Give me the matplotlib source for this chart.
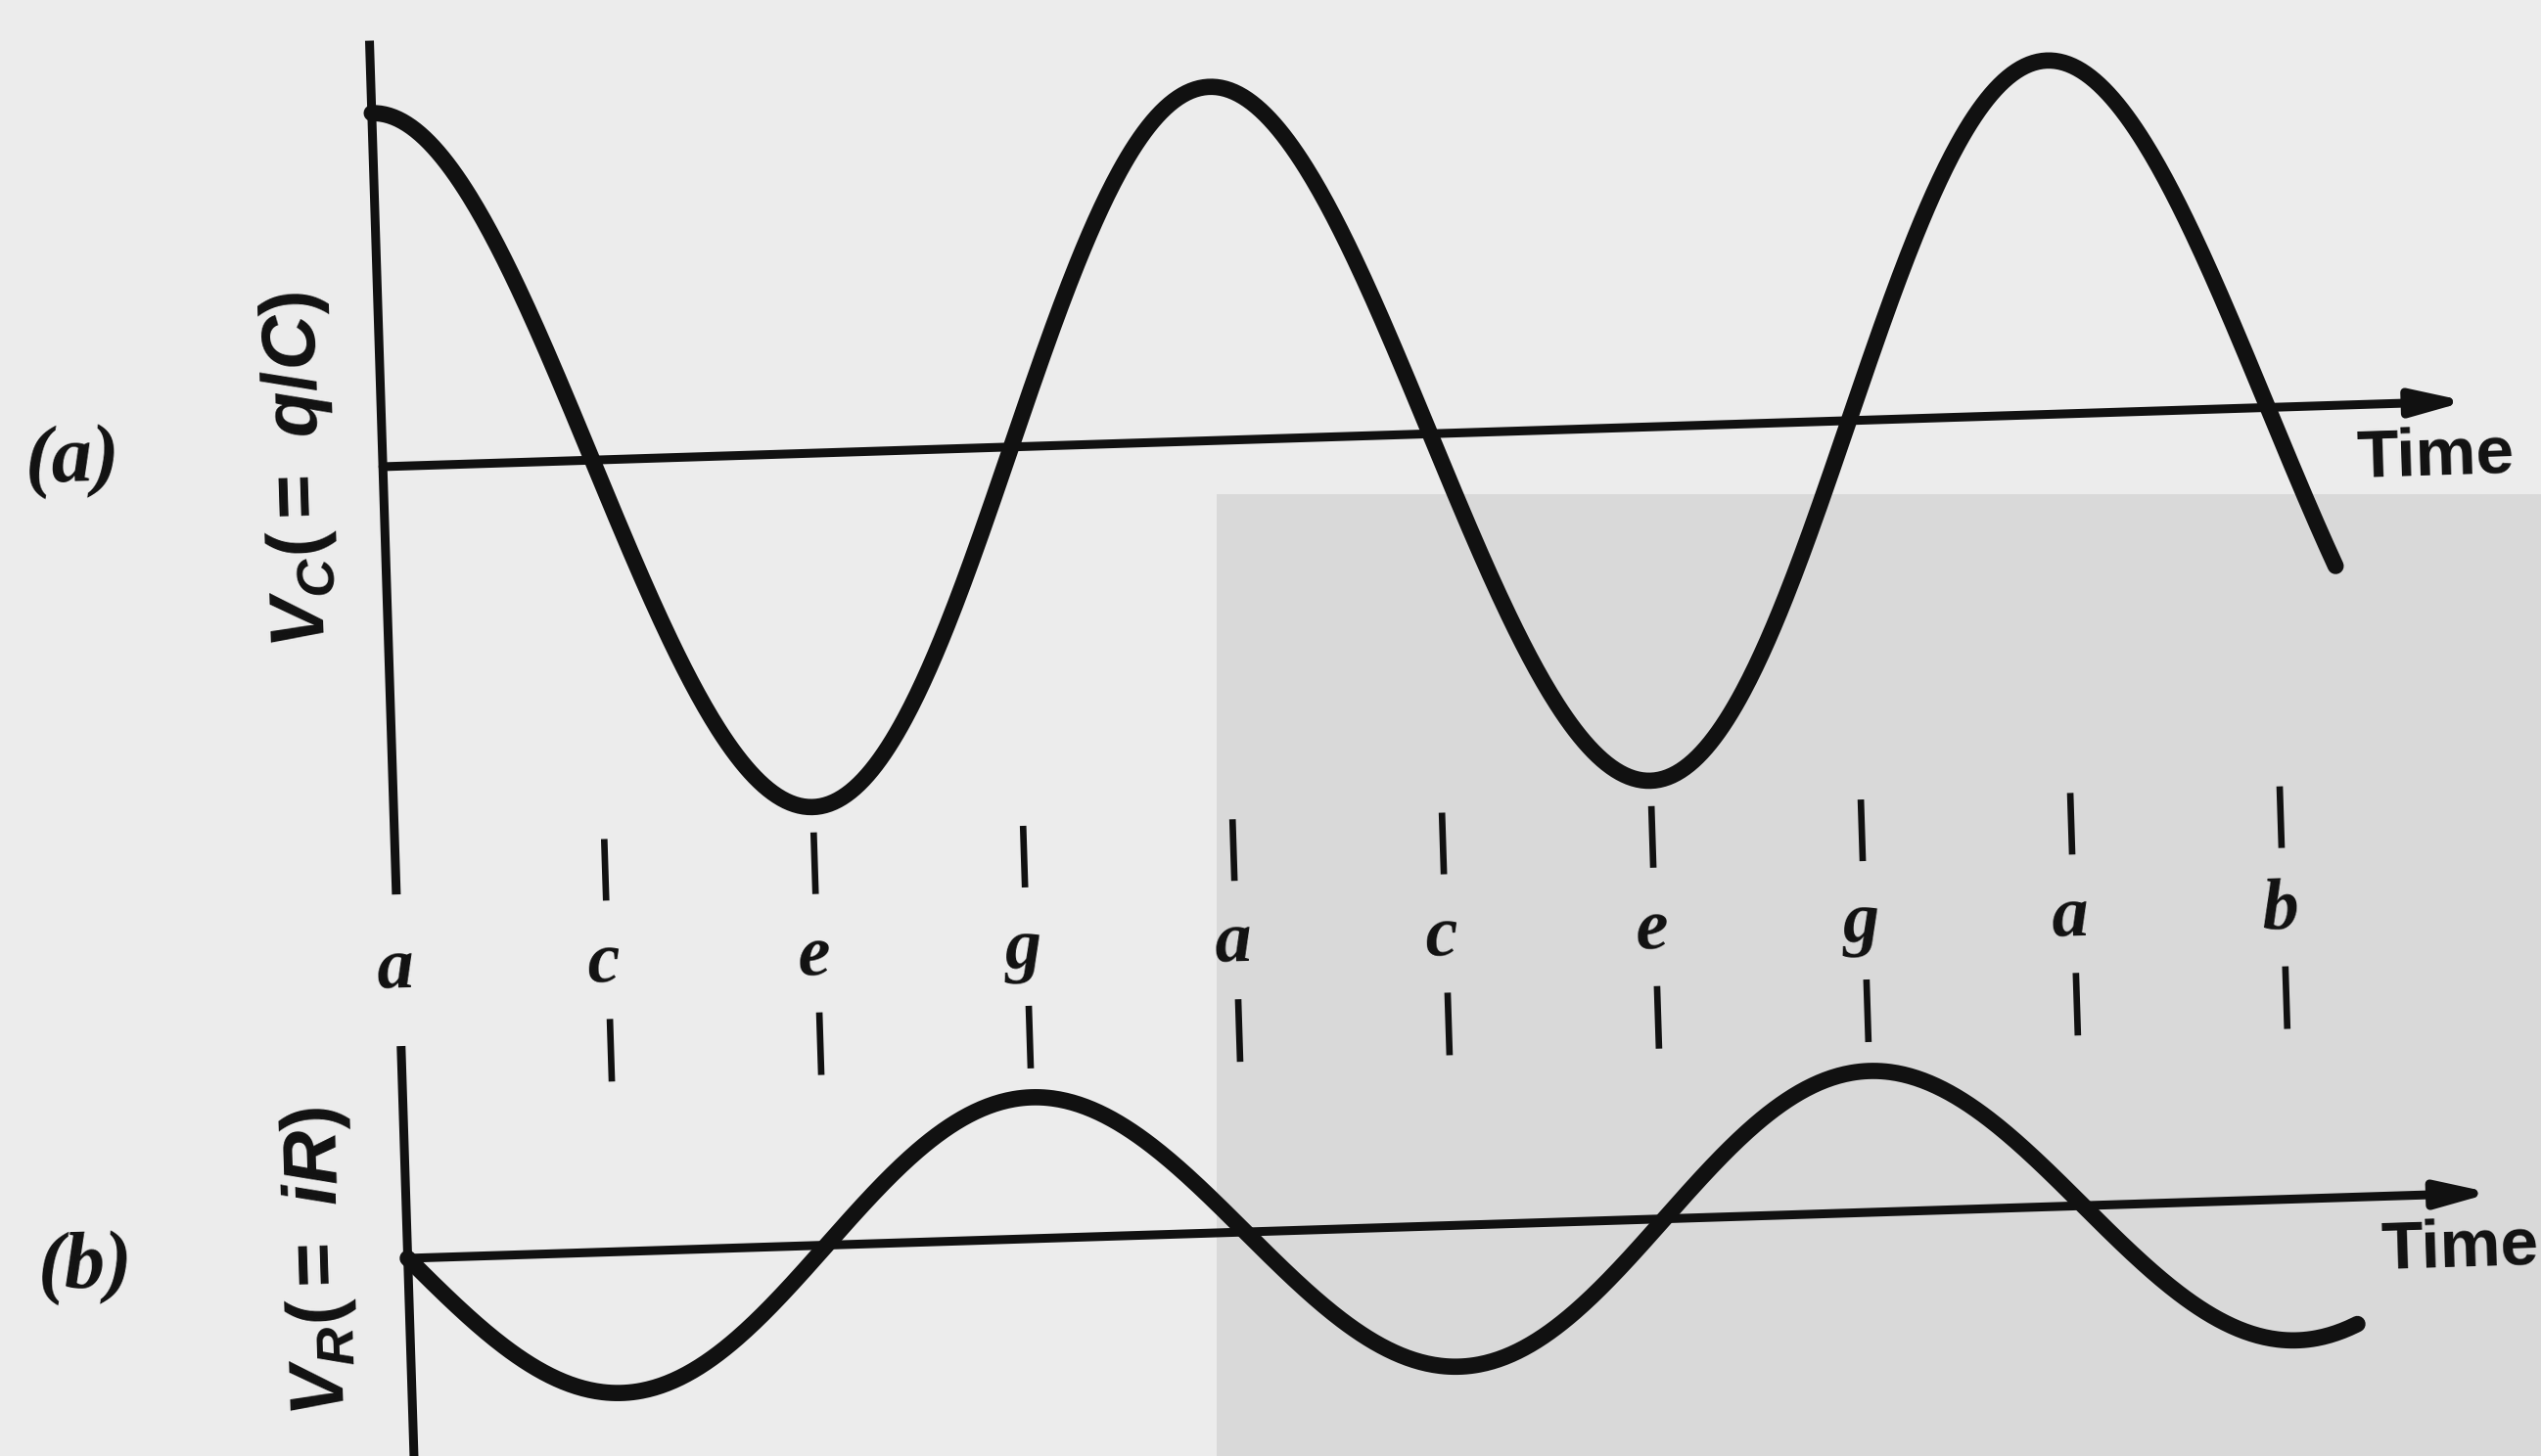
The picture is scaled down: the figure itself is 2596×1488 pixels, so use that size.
# -*- coding: utf-8 -*-
"""
LC 振荡示意图
(a) 电容电压 V_C(= q/C) 随时间变化
(b) 电阻电压 V_R(= iR) 随时间变化
中间一排字母标出每四分之一周期的时刻
"""
import numpy as np
import matplotlib
matplotlib.use('Agg')
import matplotlib.pyplot as plt
from matplotlib.patches import Rectangle
from matplotlib.transforms import Affine2D

# ============================================================
# 字体
# ============================================================
plt.rcParams['font.family'] = ['Liberation Serif', 'DejaVu Serif']
plt.rcParams['mathtext.fontset'] = 'custom'
plt.rcParams['mathtext.it'] = 'Liberation Sans:italic:bold'
plt.rcParams['mathtext.rm'] = 'Liberation Sans:bold'
plt.rcParams['mathtext.bf'] = 'Liberation Sans:bold'

# ============================================================
# 数据（时间以四分之一周期为单位）
# ============================================================
MARK_T = [0, 1, 2, 3, 4, 5, 6, 7, 8, 9]
MARK_LABELS = ['a', 'c', 'e', 'g', 'a', 'c', 'e', 'g', 'a', 'b']
AMP_C = 1.0      # V_C 幅值
AMP_R = 0.40     # V_R 幅值（相对 V_C）
T_END_C = 9.30   # 曲线 (a) 画到的时刻
T_END_R = 9.29   # 曲线 (b) 画到的时刻
T_ARROW = 9.95   # 时间轴箭头位置

# ============================================================
# 版面（像素）
# ============================================================
W, H, DPI = 2596, 1488, 100
TILT = 1.8           # 整张图略微倾斜的角度
INK = '#111111'
PAPER = '#ececec'
PAPER_DARK = '#d9d9d9'
LW_CURVE = 12.0
LW_AXIS = 6.5
LW_TICK = 4.8


def px_rect(x0, y0, x1, y1):
    """像素框 (左, 上, 右, 下) -> figure 坐标"""
    return [x0 / W, 1 - y1 / H, (x1 - x0) / W, (y1 - y0) / H]


def tilted(ax, rot):
    return ax.transData + rot


def draw_time_axis(ax, tr, y_label):
    ax.annotate('', xy=(T_ARROW, 0), xytext=(0, 0), xycoords=tr, textcoords=tr,
                annotation_clip=False,
                arrowprops=dict(arrowstyle='-|>,head_length=0.8,head_width=0.2',
                                mutation_scale=40, lw=LW_AXIS, color=INK,
                                shrinkA=0, shrinkB=0))
    ax.text(9.79, y_label, 'Time', transform=tr, rotation=TILT, rotation_mode='anchor',
            ha='center', va='center', fontsize=50,
            family=['Liberation Sans Narrow', 'Liberation Sans'], fontweight='bold',
            color=INK)


def main():
    fig = plt.figure(figsize=(W / DPI, H / DPI), dpi=DPI, facecolor=PAPER)
    # 纸面右下方颜色略深
    fig.add_artist(Rectangle((1243 / W, 0), 1 - 1243 / W, 1 - 505 / H,
                             transform=fig.transFigure, facecolor=PAPER_DARK,
                             edgecolor='none', zorder=-1))

    rot = Affine2D().rotate_deg_around(W / 2, H / 2, TILT)

    ax_a = fig.add_axes(px_rect(400, 13, 2530, 886))
    ax_m = fig.add_axes(px_rect(400, 836, 2530, 1084))
    ax_b = fig.add_axes(px_rect(400, 1041, 2530, 1488))
    for ax in (ax_a, ax_m, ax_b):
        ax.set_xlim(0, T_ARROW)
        ax.set_axis_off()
    ax_a.set_ylim(-1.21, 1.205)
    ax_m.set_ylim(0, 1)
    ax_b.set_ylim(-0.637, 0.601)

    tr_a, tr_m, tr_b = tilted(ax_a, rot), tilted(ax_m, rot), tilted(ax_b, rot)

    # ---------------- (a) V_C ----------------
    t = np.linspace(0, T_END_C, 900)
    vc = AMP_C * np.cos(np.pi / 2 * t)
    ax_a.plot([0, 0], ax_a.get_ylim(), color=INK, lw=LW_AXIS, solid_capstyle='butt',
              transform=tr_a, clip_on=False)
    draw_time_axis(ax_a, tr_a, -0.155)
    ax_a.plot(t, vc, color=INK, lw=LW_CURVE, solid_capstyle='round', transform=tr_a,
              clip_on=False)
    ax_a.text(-0.40, 0, r'$V_C(=\ q/C)$', transform=tr_a, rotation=90 + TILT,
              rotation_mode='anchor', ha='center', va='center', fontsize=56, color=INK)
    ax_a.text(-1.48, 0.04, '(a)', transform=tr_a, rotation=TILT, rotation_mode='anchor',
              ha='center', va='center', fontsize=60, style='italic', fontweight='bold',
              color=INK)

    # ---------------- 时刻标记 ----------------
    for tm, lab in zip(MARK_T, MARK_LABELS):
        if tm > 0:
            ax_m.plot([tm, tm], [1.0, 0.746], color=INK, lw=LW_TICK, solid_capstyle='butt',
                      transform=tr_m, clip_on=False)
            ax_m.plot([tm, tm], [0.258, 0.0], color=INK, lw=LW_TICK, solid_capstyle='butt',
                      transform=tr_m, clip_on=False)
        ax_m.text(tm - 0.02, 0.415, lab, transform=tr_m, rotation=TILT,
                  rotation_mode='anchor', ha='center', va='baseline', fontsize=54,
                  style='italic', fontweight='bold', color=INK)

    # ---------------- (b) V_R ----------------
    t = np.linspace(0, T_END_R, 900)
    vr = -AMP_R * np.sin(np.pi / 2 * t)
    ax_b.plot([0, 0], ax_b.get_ylim(), color=INK, lw=LW_AXIS, solid_capstyle='butt',
              transform=tr_b, clip_on=False)
    draw_time_axis(ax_b, tr_b, -0.155)
    ax_b.plot(t, vr, color=INK, lw=LW_CURVE, solid_capstyle='round', transform=tr_b,
              clip_on=False)
    ax_b.text(-0.42, 0, r'$V_R(=\ iR)$', transform=tr_b, rotation=90 + TILT,
              rotation_mode='anchor', ha='center', va='center', fontsize=56, color=INK)
    ax_b.text(-1.54, 0, '(b)', transform=tr_b, rotation=TILT, rotation_mode='anchor',
              ha='center', va='center', fontsize=60, style='italic', fontweight='bold',
              color=INK)

    fig.savefig('out.png', dpi=DPI, facecolor=PAPER)
    plt.close(fig)


if __name__ == '__main__':
    main()
